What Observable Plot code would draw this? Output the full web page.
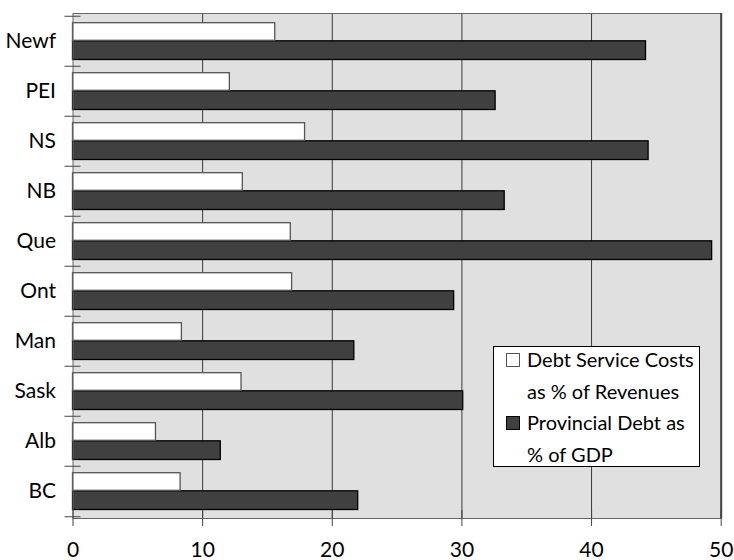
<!DOCTYPE html>
<html>
<head>
<meta charset="utf-8">
<script src="https://cdn.jsdelivr.net/npm/d3@7"></script>
<script src="https://cdn.jsdelivr.net/npm/@observablehq/plot@0.6"></script>
<style>
  body { margin: 0; background: #fff; }
  #wrap { position: relative; width: 734px; height: 560px; font-family: Lato, "Open Sans", sans-serif; }
  #legend { position: absolute; left: 493px; top: 346px; width: 207px; height: 121px; background: #fff; border: 1.5px solid #000; box-sizing: border-box; font-size: 20px; line-height: 31.7px; color: #000; padding: 0 0 0 12px; white-space: nowrap; }
  #legend .inner { position: relative; top: -3px; }
  .row { position: relative; padding-left: 21px; }
  .sw { position: absolute; left: 0; top: 9px; width: 14px; height: 14px; box-sizing: border-box; }
</style>
</head>
<body>
<div id="wrap"></div>
<script>
const provinces = ["Newf", "PEI", "NS", "NB", "Que", "Ont", "Man", "Sask", "Alb", "BC"];
const debtService = [15.6, 12.1, 17.9, 13.1, 16.8, 16.9, 8.4, 13.0, 6.4, 8.3];
const debtGDP = [44.2, 32.6, 44.4, 33.3, 49.3, 29.4, 21.7, 30.1, 11.4, 22.0];
const xTicks = [0, 10, 20, 30, 40, 50];
const gridTicks = [10, 20, 30, 40];
const seriesNames = ["Debt Service Costs", "as % of Revenues", "Provincial Debt as", "% of GDP"];

const data = provinces.map((p, i) => ({prov: p, service: debtService[i], gdp: debtGDP[i]}));

const W = 734, H = 560, mT = 13, mB = 42, mL = 72.5, mR = 13.3;
const bw = (H - mT - mB) / provinces.length;
const font = 'Lato, "Open Sans", sans-serif';

const chart = Plot.plot({
  width: W,
  height: H,
  marginTop: mT,
  marginBottom: mB,
  marginLeft: mL,
  marginRight: mR,
  style: {fontFamily: font, fontSize: "21px", color: "#000", background: "#fff", overflow: "visible"},
  x: {domain: [0, 50], label: null},
  y: {domain: provinces, padding: 0, label: null},
  marks: [
    Plot.frame({fill: "#e0e0e0"}),
    Plot.ruleX(gridTicks, {stroke: "#3a3a3a", strokeWidth: 1}),
    Plot.barX(data, {x: "gdp", y: "prov", fill: "#404040", stroke: "#000", strokeWidth: 1.3, insetTop: 24.8, insetBottom: 6.5}),
    Plot.barX(data, {x: "service", y: "prov", fill: "#fff", stroke: "#555", strokeWidth: 1.3, insetTop: 6.7, insetBottom: 25.7}),
    Plot.frame({stroke: "#666", strokeWidth: 1}),
    Plot.ruleX([50], {stroke: "#444", strokeWidth: 2}),
    Plot.axisY({tickSize: 0, tickPadding: 17, fontSize: 21, label: null}),
    Plot.axisY({text: null, tickSize: 16, dx: 8, dy: -bw / 2, stroke: "#444", label: null}),
    Plot.axisY({ticks: ["BC"], text: null, tickSize: 16, dx: 8, dy: bw / 2, stroke: "#444", label: null}),
    Plot.axisX({ticks: xTicks, text: null, tickSize: 16, dy: -8, stroke: "#444", label: null}),
    Plot.axisX({ticks: xTicks, tickSize: 0, tickPadding: 24, fontSize: 21, label: null})
  ]
});

const wrap = document.getElementById("wrap");
wrap.appendChild(chart);

const legend = document.createElement("div");
legend.id = "legend";
legend.innerHTML =
  `<div class="inner">` +
  `<div class="row"><span class="sw" style="background:#fff;border:1.5px solid #555"></span>${seriesNames[0]}<br>${seriesNames[1]}</div>` +
  `<div class="row"><span class="sw" style="background:#404040;border:1.5px solid #000"></span>${seriesNames[2]}<br>${seriesNames[3]}</div>` +
  `</div>`;
wrap.appendChild(legend);
</script>
</body>
</html>
